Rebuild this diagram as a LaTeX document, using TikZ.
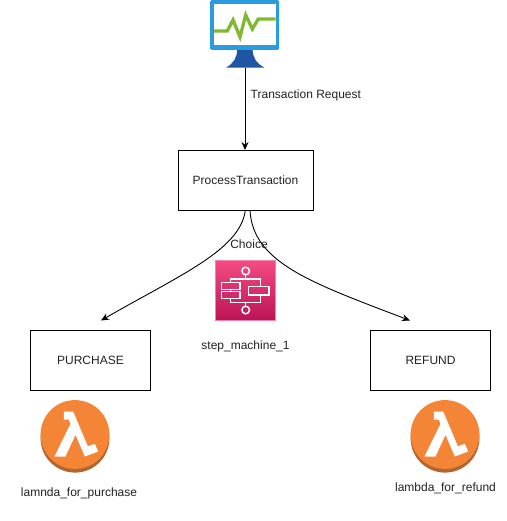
\documentclass[tikz,border=0pt]{standalone}
\usepackage{fontspec}
\setmainfont{Liberation Sans}
\usetikzlibrary{arrows.meta}
\definecolor{monblue}{HTML}{2A9BE0}
\definecolor{standblue}{HTML}{1F56A3}
\definecolor{pulsegreen}{HTML}{7FBA2E}
\definecolor{lamorange}{HTML}{F58536}
\definecolor{lamdark}{HTML}{B2652F}
\definecolor{pinktop}{HTML}{F34B82}
\definecolor{pinkbot}{HTML}{BC1356}
\definecolor{txt}{HTML}{222222}
\tikzset{
  x=1pt,y=-1pt,
  flowbox/.style={draw=black,line width=0.9pt,fill=white,minimum width=120pt,minimum height=60pt,inner sep=0pt,font=\fontsize{12}{14}\selectfont,text=txt},
  lbl/.style={inner sep=0pt,font=\fontsize{12}{14}\selectfont,text=txt},
  conn/.style={draw=black,line width=0.9pt,-{Stealth[length=8pt,width=7pt]}},
  ghost/.style={inner sep=0pt,minimum width=#1,minimum height=#1},
  ico/.style={white,line width=1.5pt}
}
\newcommand{\lambdaicon}[2]{%
  \begin{scope}[shift={(#1,#2)}]
    \fill[lamdark] (0,3.8) ellipse[x radius=34.4,y radius=34.3];
    \fill[lamorange] (0,0) circle[radius=34.4];
    \fill[white] (-11.2,-23) -- (-1.8,-23) -- (12.8,11.7) -- (19.8,9.3) -- (23.2,17) -- (9.8,22)
      -- (0.5,0.3) -- (-9.5,22) -- (-20.5,22) -- (-4.5,-10.7) -- (-6.2,-15) -- (-11.2,-15) -- cycle;
  \end{scope}}
\begin{document}
\begin{tikzpicture}
\useasboundingbox (0,0) rectangle (506,521);
\fill[white] (0,0) rectangle (506,521);
% monitor
\fill[standblue] (237.3,49) -- (252.5,49) .. controls (253,58) and (256,63) .. (264.5,67.7) -- (226,67.7) .. controls (234,63) and (236.8,58) .. (237.3,49) -- cycle;
\fill[monblue,rounded corners=1.5pt] (210,0) rectangle (279,50);
\fill[white] (214,4) rectangle (275.5,45.5);
\draw[pulsegreen,line width=3.3pt,line join=miter] (214,31) -- (227.3,31) -- (233,20) -- (240,37) -- (245.7,15) -- (252.3,29) -- (258.3,19) -- (275.5,19);
\node[ghost=1pt] (mon) at (245,68) {};
% boxes
\node[flowbox,minimum width=135pt] (proc) at (245.5,180.5) {ProcessTransaction};
\node[flowbox] (pur) at (90.5,360.5) {PURCHASE};
\node[flowbox] (ref) at (430.5,360.5) {REFUND};
% connectors
\draw[conn] (mon.center) -- (proc.north -| mon.center);
\node[lbl,anchor=west] (tr) at (250.5,95.5) {Transaction Request};
\coordinate (ls) at (245.3,210.5);
\coordinate (le) at (101,320.5);
\coordinate (rs) at (250,210.5);
\coordinate (re) at (410,320.5);
\draw[conn] (ls) .. controls (240,250) and (180,275) .. (le);
\draw[conn] (rs) .. controls (253,263) and (312,283) .. (re);
\node[lbl] (ch) at (249,244.5) {Choice};
% step functions icon
\node[ghost=60pt,anchor=north west] (sm) at (215.5,260.5) {};
\shade[top color=pinktop,bottom color=pinkbot] (215.5,260.5) rectangle (275.5,320.5);
\draw[draw=pinktop!70!white,line width=0.6pt] (215.5,260.5) rectangle (275.5,320.5);
\begin{scope}[ico]
  \draw (245.7,271) circle[radius=3.8];
  \draw (245.7,310) circle[radius=3.8];
  \draw (245.7,274.8) -- (245.7,279) (230.7,282.7) -- (230.7,279) -- (260.7,279) -- (260.7,286.7);
  \draw (230.7,298.3) -- (230.7,302.3) -- (260.7,302.3) -- (260.7,295) (245.7,302.3) -- (245.7,306.2);
  \draw (221.7,282.7) rectangle (240,289.3);
  \draw (221.7,291.7) rectangle (240,298.3);
  \draw (248.3,286.7) rectangle (269,295);
  \draw (230.7,289.3) -- (230.7,291.7);
\end{scope}
\node[lbl] (sml) at (245.5,346) {step\_machine\_1};
% lambda icons
\lambdaicon{75}{434.5}
\node[ghost=68pt] (lam1) at (75,434.5) {};
\node[lbl] (lam1l) at (79,493.5) {lamnda\_for\_purchase};
\lambdaicon{445}{434.5}
\node[ghost=68pt] (lam2) at (445,434.5) {};
\node[lbl] (lam2l) at (445.5,488) {lambda\_for\_refund};
\end{tikzpicture}
\end{document}
